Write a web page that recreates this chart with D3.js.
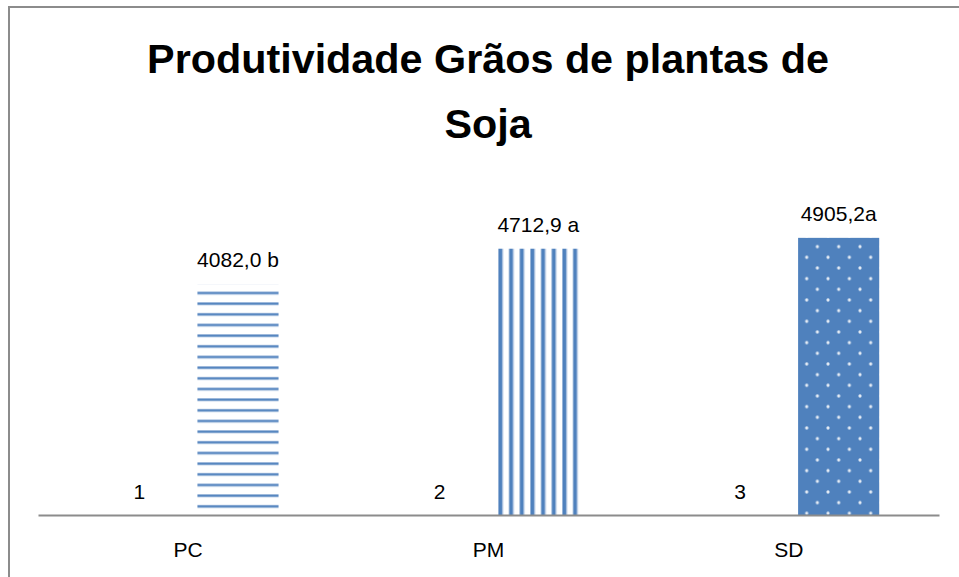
<!DOCTYPE html>
<html>
<head>
<meta charset="utf-8">
<script src="https://cdn.jsdelivr.net/npm/d3@7"></script>
<style>
  body { margin: 0; background: #fff; }
  svg { display: block; }
  text { font-family: "Liberation Sans", Arial, sans-serif; fill: #000; }
</style>
</head>
<body>
<div id="chart"></div>
<script>
// chart data
var categories = ["PC", "PM", "SD"];
var seriesIndex = [1, 2, 3];               // first (hidden) series, only its labels show
var seriesYield = [4082.0, 4712.9, 4905.2];
var yieldLabels = ["4082,0 b", "4712,9 a", "4905,2a"];
var titleLines = ["Produtividade Grãos de plantas de", "Soja"];

var W = 959, H = 577;
var plot = {left: 38, right: 939, top: 176, bottom: 515};
var blue = "#4f81bd";

var svg = d3.select("#chart").append("svg")
    .attr("width", W)
    .attr("height", H);

// patterns for the three bars
var defs = svg.append("defs");

var pH = defs.append("pattern")
    .attr("id", "hstripe")
    .attr("patternUnits", "userSpaceOnUse")
    .attr("x", 0).attr("y", 291.5)
    .attr("width", 10.667).attr("height", 10.667);
pH.append("rect").attr("width", 10.667).attr("height", 10.667).attr("fill", "#fff");
pH.append("rect").attr("y", -0.3).attr("width", 10.667).attr("height", 3.6).attr("fill", "#c6d6ea");
pH.append("rect").attr("y", 0.5).attr("width", 10.667).attr("height", 2).attr("fill", blue);

var pV = defs.append("pattern")
    .attr("id", "vstripe")
    .attr("patternUnits", "userSpaceOnUse")
    .attr("x", 498).attr("y", 0)
    .attr("width", 10.667).attr("height", 10.667);
pV.append("rect").attr("width", 10.667).attr("height", 10.667).attr("fill", "#fff");
pV.append("rect").attr("x", 0).attr("width", 5.4).attr("height", 10.667).attr("fill", "#c6d6ea");
pV.append("rect").attr("x", 0.6).attr("width", 3.6).attr("height", 10.667).attr("fill", blue);

var pD = defs.append("pattern")
    .attr("id", "dots")
    .attr("patternUnits", "userSpaceOnUse")
    .attr("x", 806.7).attr("y", 385.3)
    .attr("width", 21.333).attr("height", 21.333);
pD.append("rect").attr("width", 21.333).attr("height", 21.333).attr("fill", blue);
[[0, 0], [21.333, 0], [0, 21.333], [21.333, 21.333], [10.667, 10.667]].forEach(function(p) {
  pD.append("circle").attr("cx", p[0]).attr("cy", p[1]).attr("r", 1.6).attr("fill", "#fff").attr("opacity", 0.85);
});
var fills = ["url(#hstripe)", "url(#vstripe)", "url(#dots)"];

// frame (only top and left edges fall inside the picture)
svg.append("path")
    .attr("d", "M9," + H + "V7H" + W)
    .attr("fill", "none")
    .attr("stroke", "#8c8c8c")
    .attr("stroke-width", 2);

// title, sized so the first line matches the reference width
var title = svg.append("g");
var t1 = title.append("text")
    .attr("x", 488).attr("y", 73)
    .attr("text-anchor", "middle")
    .style("font-weight", "bold")
    .style("font-size", "40px")
    .text(titleLines[0]);
var fs = 40 * 682 / t1.node().getComputedTextLength();
t1.style("font-size", fs + "px");
title.append("text")
    .attr("x", 488).attr("y", 138)
    .attr("text-anchor", "middle")
    .style("font-weight", "bold")
    .style("font-size", fs + "px")
    .text(titleLines[1]);

// scales
var x0 = d3.scaleBand()
    .domain(categories)
    .range([plot.left, plot.right]);

var x1 = d3.scaleBand()
    .domain(["idx", "yield"])
    .range([0, x0.bandwidth()])
    .paddingInner(0.186)
    .paddingOuter(0.6);

var y = d3.scaleLinear()
    .domain([0, 6000])
    .range([plot.bottom, plot.top]);

var data = categories.map(function(c, i) {
  return {cat: c, idx: seriesIndex[i], val: seriesYield[i], label: yieldLabels[i], fill: fills[i]};
});

// bars
svg.append("g")
  .selectAll("rect")
  .data(data)
  .enter().append("rect")
    .attr("x", function(d) { return x0(d.cat) + x1("yield"); })
    .attr("y", function(d) { return y(d.val); })
    .attr("width", x1.bandwidth())
    .attr("height", function(d) { return y(0) - y(d.val); })
    .attr("fill", function(d) { return d.fill; });

// value labels
svg.append("g")
  .selectAll("text")
  .data(data)
  .enter().append("text")
    .attr("x", function(d) { return x0(d.cat) + x1("yield") + x1.bandwidth() / 2; })
    .attr("y", function(d) { return y(d.val) - 17; })
    .attr("text-anchor", "middle")
    .style("font-size", "21px")
    .text(function(d) { return d.label; });

// labels of the hidden first series
svg.append("g")
  .selectAll("text")
  .data(data)
  .enter().append("text")
    .attr("x", function(d) { return x0(d.cat) + x1("idx") + x1.bandwidth() / 2 + 1; })
    .attr("y", function(d) { return y(d.idx) - 16; })
    .attr("text-anchor", "middle")
    .style("font-size", "21px")
    .text(function(d) { return d.idx; });

// x axis
var xAxis = svg.append("g")
    .attr("transform", "translate(0," + plot.bottom + ")")
    .call(d3.axisBottom(x0).tickSize(0).tickPadding(27));
xAxis.select(".domain").attr("stroke", "#8c8c8c").attr("stroke-width", 2);
xAxis.selectAll("text")
    .style("font-family", "Liberation Sans, Arial, sans-serif")
    .style("font-size", "21px")
    .attr("fill", "#000");
</script>
</body>
</html>
